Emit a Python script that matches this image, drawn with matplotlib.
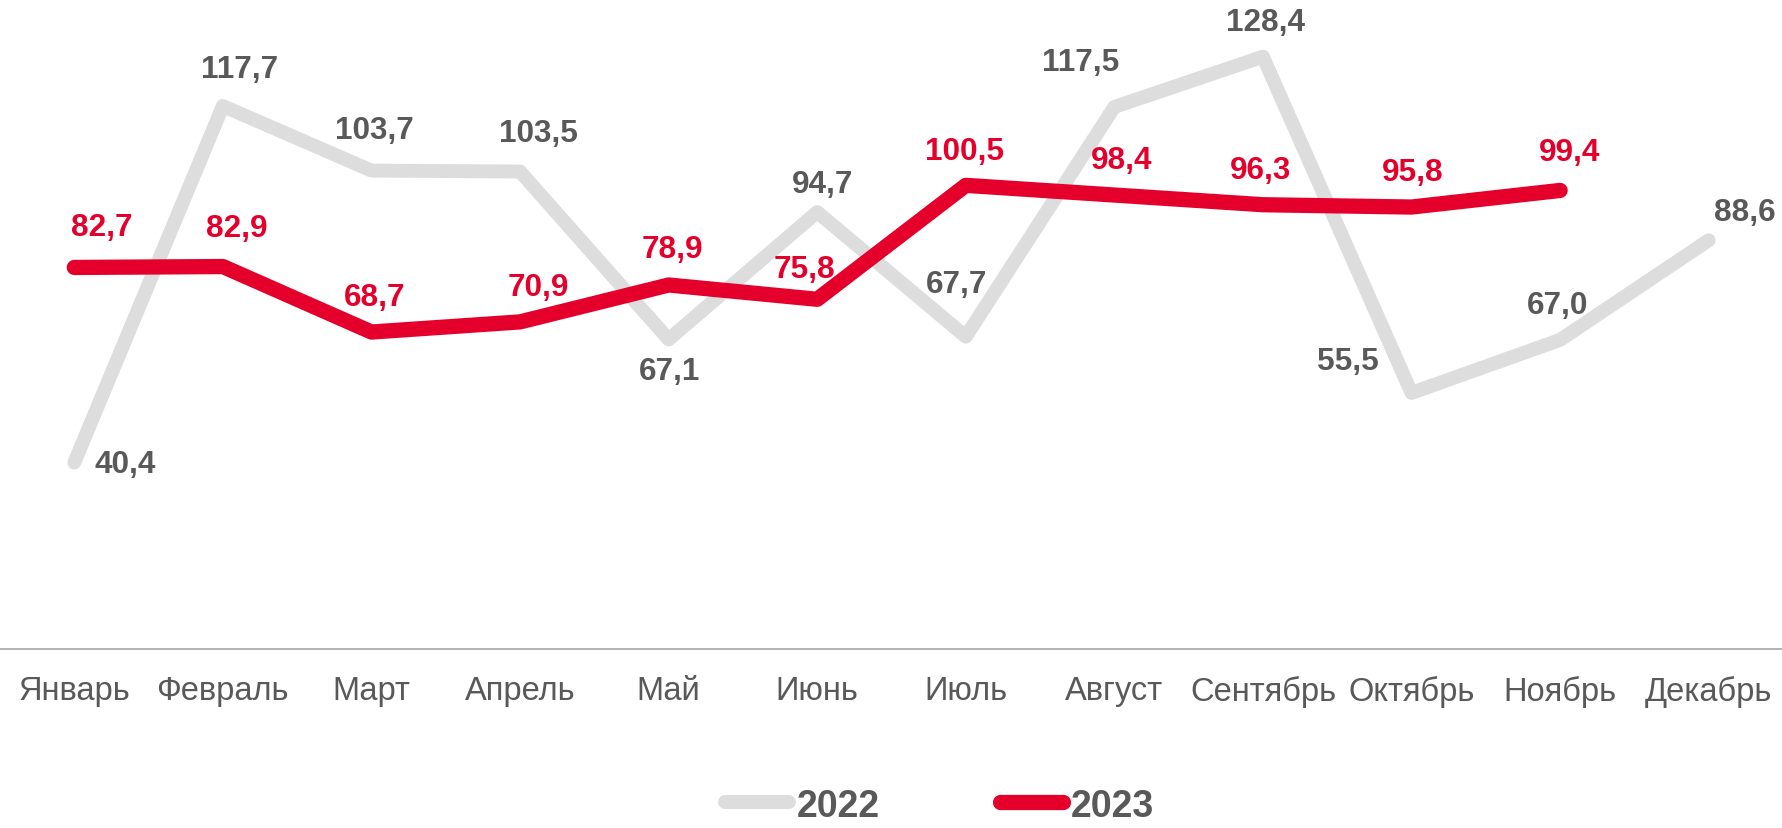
import matplotlib.pyplot as plt

months = ["Январь", "Февраль", "Март", "Апрель", "Май", "Июнь",
          "Июль", "Август", "Сентябрь", "Октябрь", "Ноябрь", "Декабрь"]
values_2022 = [40.4, 117.7, 103.7, 103.5, 67.1, 94.7, 67.7, 117.5, 128.4, 55.5, 67.0, 88.6]
values_2023 = [82.7, 82.9, 68.7, 70.9, 78.9, 75.8, 100.5, 98.4, 96.3, 95.8, 99.4]

# label offsets in points (layout only)
offsets_2022 = [(37, -1), (12, 27), (2, 29), (13, 28), (1, -23), (4, 20),
                (-7, 38), (-24, 32), (2, 25), (-46, 23), (-2, 25), (26, 20)]
offsets_2023 = [(20, 29), (10, 28), (2, 25), (13, 25), (3, 26), (-9, 22),
                (-1, 25), (5, 25), (-2, 25), (1, 25), (7, 28)]

GRAY = "#DDDDDD"
RED = "#E4002B"
TEXT = "#595959"

plt.rcParams["font.family"] = ["Liberation Sans", "DejaVu Sans"]

fig = plt.figure(figsize=(17.83, 8.29), dpi=100)
ax = fig.add_axes([0, 0.216, 1, 0.784])

x22 = list(range(len(values_2022)))
x23 = list(range(len(values_2023)))
ax.plot(x22, values_2022, color=GRAY, lw=10, solid_capstyle="round",
        solid_joinstyle="round", label="2022", zorder=2)
ax.plot(x23, values_2023, color=RED, lw=11, solid_capstyle="round",
        solid_joinstyle="round", label="2023", zorder=3)

def fmt(v):
    return f"{v:.1f}".replace(".", ",")

for x, v, off in zip(x22, values_2022, offsets_2022):
    ax.annotate(fmt(v), (x, v), xytext=off, textcoords="offset points",
                ha="center", va="center", fontsize=22.7, fontweight="bold", color=TEXT, zorder=4)
for x, v, off in zip(x23, values_2023, offsets_2023):
    ax.annotate(fmt(v), (x, v), xytext=off, textcoords="offset points",
                ha="center", va="center", fontsize=22.7, fontweight="bold", color=RED, zorder=4)

ax.set_xlim(-0.5, 11.5)
ax.set_ylim(0, 140.9)
ax.set_xticks(x22)
ax.set_xticklabels(months, fontsize=23.5, color=TEXT)
ax.tick_params(axis="x", length=0, pad=19)
ax.set_yticks([])
for side in ["top", "left", "right"]:
    ax.spines[side].set_visible(False)
ax.spines["bottom"].set_color("#A6A6A6")
ax.spines["bottom"].set_linewidth(1.2)

leg = fig.legend(loc="center", bbox_to_anchor=(0.527, 0.027), ncol=2, frameon=False,
                 fontsize=27, handlelength=1.7, handletextpad=0.2, columnspacing=3.2,
                 borderpad=0.1)
for t in leg.get_texts():
    t.set_color(TEXT)
    t.set_fontweight("bold")

fig.savefig("out.png", dpi=100)
